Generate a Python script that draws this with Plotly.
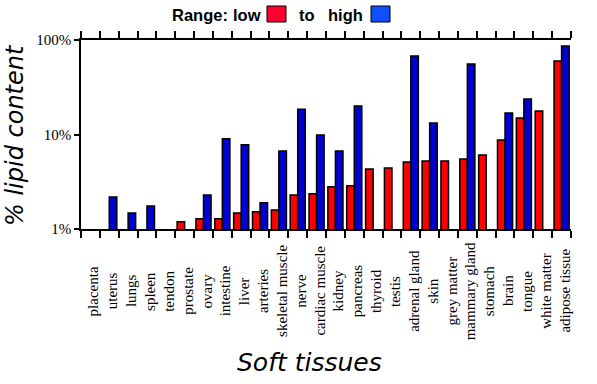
import plotly.graph_objects as go

categories = ["placenta", "uterus", "lungs", "spleen", "tendon", "prostate", "ovary",
              "intestine", "liver", "arteries", "skeletal muscle", "nerve",
              "cardiac muscle", "kidney", "pancreas", "thyroid", "testis",
              "adrenal gland", "skin", "grey matter", "mammary gland", "stomach",
              "brain", "tongue", "white matter", "adipose tissue"]
low_pct = [None, None, None, None, None, 1.19, 1.28, 1.28, 1.48, 1.52, 1.59, 2.29,
           2.36, 2.80, 2.87, 4.31, 4.42, 5.12, 5.24, 5.24, 5.5, 6.07, 8.74, 14.95,
           17.7, 59.9]
high_pct = [None, 2.18, 1.48, 1.75, None, None, 2.29, 9.0, 7.8, 1.90, 6.69, 18.5,
            9.9, 6.69, 20.0, None, None, 67.7, 13.2, None, 55.7, None, 16.9, 23.8,
            None, 86.4]
y_tick_vals = [1, 10, 100]
y_tick_text = ["1%", "10%", "100%"]
y_minor_vals = [2, 3, 4, 5, 6, 7, 8, 9, 20, 30, 40, 50, 60, 70, 80, 90]

n = len(categories)
boundaries = [i - 0.5 for i in range(n + 1)]

# plot area geometry (pixels)
L, R, T, B = 81, 571, 40, 229
W, H = R - L, B - T


def px(x):
    return (x - L) / W


def py(y):
    return (B - y) / H


fig = go.Figure()
fig.add_bar(x=categories, y=low_pct, name="low", marker_color="#ff0000",
            marker_line=dict(color="black", width=1.5), showlegend=False)
fig.add_bar(x=categories, y=high_pct, name="high", marker_color="#0000d0",
            marker_line=dict(color="black", width=1.5), showlegend=False)

tick_font = dict(family="Liberation Serif", size=15, color="black")
fig.update_layout(
    width=597, height=384,
    margin=dict(l=L, r=597 - R, t=T, b=384 - B),
    paper_bgcolor="white", plot_bgcolor="white",
    barmode="group", bargap=0.2, bargroupgap=0,
    xaxis=dict(type="category", range=[-0.5, n - 0.5], tickson="boundaries",
               ticks="outside", ticklen=7, tickwidth=1.5, tickcolor="black",
               mirror="allticks", showline=True, linecolor="black", linewidth=1.5,
               showticklabels=False, showgrid=False, zeroline=False),
    xaxis2=dict(overlaying="x", anchor="y", range=[-0.5, n - 0.5], tickmode="array",
                tickvals=boundaries, ticks="inside", ticklen=6, tickwidth=1.5,
                tickcolor="black", mirror="allticks", showline=False,
                showticklabels=False, showgrid=False, zeroline=False),
    yaxis=dict(type="log", range=[0, 2], tickmode="array", tickvals=y_tick_vals,
               ticktext=y_tick_text, ticks="outside", ticklen=5, tickwidth=1.5,
               tickcolor="black", showline=True, linecolor="black", linewidth=1.5,
               tickfont=tick_font, showgrid=False, zeroline=False),
    yaxis2=dict(type="log", range=[0, 2], overlaying="y", anchor="x", side="left",
                tickmode="array", tickvals=y_tick_vals, ticks="inside", ticklen=8,
                tickwidth=1.5, tickcolor="black", showticklabels=False,
                showgrid=False, zeroline=False, showline=False,
                minor=dict(tickmode="array", tickvals=y_minor_vals, ticks="inside",
                           ticklen=5, tickwidth=1.5, tickcolor="black", showgrid=False)),
    yaxis3=dict(type="log", range=[0, 2], overlaying="y", anchor="x", side="right",
                tickmode="array", tickvals=y_tick_vals, ticks="outside", ticklen=5,
                tickwidth=1.5, tickcolor="black", showticklabels=False,
                showgrid=False, zeroline=False, showline=False,
                minor=dict(tickmode="array", tickvals=y_minor_vals, ticks="outside",
                           ticklen=4, tickwidth=1.5, tickcolor="black", showgrid=False)),
    yaxis4=dict(type="log", range=[0, 2], overlaying="y", anchor="x", side="right",
                tickmode="array", tickvals=y_tick_vals, ticks="inside", ticklen=5,
                tickwidth=1.5, tickcolor="black", showticklabels=False,
                showgrid=False, zeroline=False, showline=False,
                minor=dict(tickmode="array", tickvals=y_minor_vals, ticks="inside",
                           ticklen=4, tickwidth=1.5, tickcolor="black", showgrid=False)),
)

annotations = []
for c in categories:
    annotations.append(dict(x=c, y=py(291), xref="x", yref="paper", text=c,
                            textangle=-90, showarrow=False, xshift=3,
                            xanchor="center", yanchor="middle",
                            font=dict(family="Liberation Serif", size=15, color="black")))

annotations.append(dict(x=px(15), y=py(135), xref="paper", yref="paper",
                        text="<i>% lipid content</i>", textangle=-90, showarrow=False,
                        xanchor="center", yanchor="middle",
                        font=dict(family="DejaVu Sans", size=24, color="black")))
annotations.append(dict(x=px(309), y=py(362), xref="paper", yref="paper",
                        text="<i>Soft tissues</i>", showarrow=False,
                        xanchor="center", yanchor="middle",
                        font=dict(family="DejaVu Sans", size=25, color="black")))

legend_font = dict(family="Liberation Sans", size=16.5, color="black")
for txt, xp, anchor in [("<b>Range:</b>", 170, "left"), ("<b>low</b>", 263, "right"),
                        ("<b>to</b>", 297, "left"), ("<b>high</b>", 365, "right")]:
    annotations.append(dict(x=px(xp), y=py(15), xref="paper", yref="paper",
                            text=txt, showarrow=False, xanchor=anchor, yanchor="middle",
                            font=legend_font))
fig.update_layout(annotations=annotations)

shapes = []
for x0, x1, col in [(267, 286, "#ff0030"), (371, 390, "#1050ff")]:
    shapes.append(dict(type="rect", xref="paper", yref="paper",
                       x0=px(x0), x1=px(x1), y0=py(22), y1=py(6),
                       fillcolor=col, line=dict(color="black", width=1)))
fig.update_layout(shapes=shapes)

fig.write_html("out.html", config={"displayModeBar": False},
               post_script="document.body.style.margin='0';document.body.style.padding='0';")
